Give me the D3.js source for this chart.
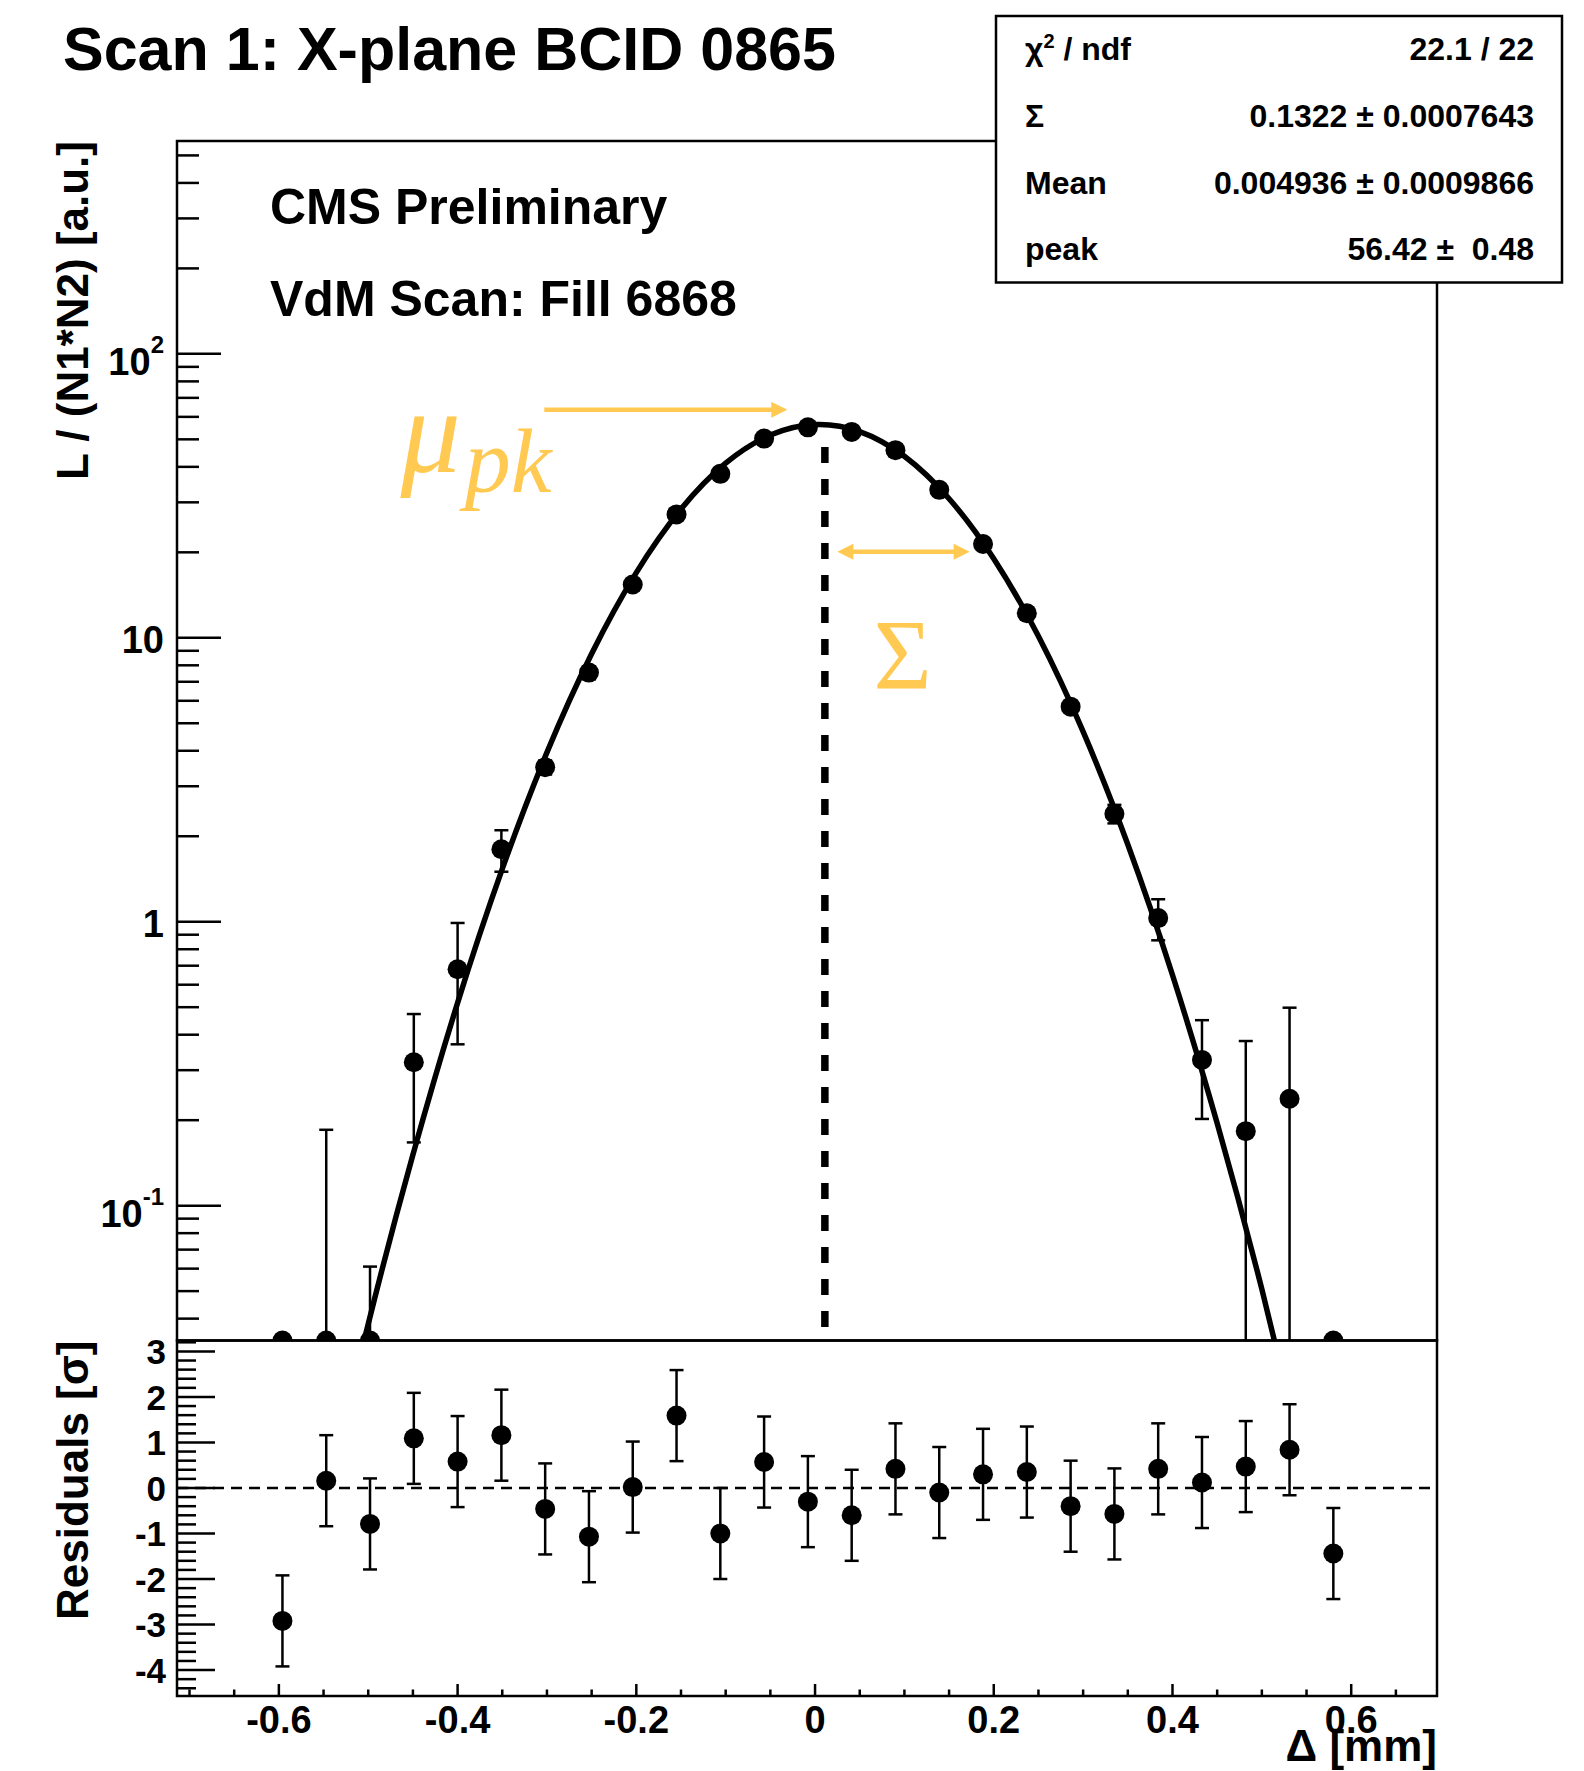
<!DOCTYPE html>
<html><head><meta charset="utf-8">
<script src="https://cdn.jsdelivr.net/npm/d3@7"></script>
<style>
body{margin:0;background:#fff}
svg{display:block}
text{font-family:"Liberation Sans",Arial,Helvetica,sans-serif;font-weight:bold;fill:#000}
</style></head><body>
<svg id="c" width="1584" height="1771"></svg>
<script>
// ---------------- data ----------------
const scanX = [-0.596,-0.547,-0.498,-0.449,-0.400,-0.351,-0.302,-0.253,-0.204,-0.155,-0.106,-0.057,-0.008,
               0.041,0.090,0.139,0.188,0.237,0.286,0.335,0.384,0.433,0.482,0.531,0.580];
const lumi = [0,0.020,0.005,0.32,0.68,1.80,3.50,7.54,15.4,27.2,37.8,50.3,55.1,
              53.1,45.8,33.2,21.4,12.2,5.72,2.40,1.03,0.326,0.183,0.238,0];
const lumiErr = [0.0006,0.165,0.056,0.153,0.31,0.30,0.2,0.4,0.6,0.8,1.0,1.5,2.0,
                 2.0,1.5,1.1,0.8,0.5,0.25,0.18,0.17,0.124,0.197,0.26,0.003];
const resid = [-2.92,0.16,-0.79,1.09,0.58,1.16,-0.46,-1.07,0.02,1.59,-1.00,0.57,-0.30,
               -0.60,0.42,-0.10,0.30,0.35,-0.40,-0.57,0.42,0.12,0.47,0.84,-1.44];
const residErr = [1,1,1,1,1,1,1,1,1,1,1,1,1,1,1,1,1,1,1,1,1,1,1,1,1];
// fit curve
const fitX = [-0.55,-0.50,-0.45,-0.40,-0.35,-0.30,-0.25,-0.20,-0.15,-0.10,-0.05,0.00,
              0.05,0.10,0.15,0.20,0.25,0.30,0.35,0.40,0.45,0.50,0.55];
const fitY = [0.0084,0.0383,0.151,0.518,1.535,3.95,8.79,16.97,28.4,41.2,51.75,56.38,
              53.24,43.57,30.9,19.0,10.12,4.67,1.87,0.649,0.195,0.0508,0.0115];
const xTicks = [-0.6,-0.4,-0.2,0,0.2,0.4,0.6];
const xTickLabels = ["-0.6","-0.4","-0.2","0","0.2","0.4","0.6"];
const yTicks = [0.1,1,10,100];
const yTickBase = ["10","1","10","10"];
const yTickExp = ["-1","","","2"];
const residTicks = [-4,-3,-2,-1,0,1,2,3];
const statsNames = ["χ","Σ","Mean","peak"];
const statsValues = ["22.1 / 22","0.1322 ± 0.0007643","0.004936 ± 0.0009866","56.42 ±  0.48"];
const titleText = "Scan 1: X-plane BCID 0865";
const labelLines = ["CMS Preliminary","VdM Scan: Fill 6868"];
// annotation (data coordinates)
const peakMarkX = 0.011, peakMarkTop = 47, peakMarkBottom = 0.036;

// ---------------- layout ----------------
const L = 177, R = 1437, T = 141, M = 1340.5, B = 1696;
const svg = d3.select("#c");
const x = d3.scaleLinear().domain([-0.714, 0.696]).range([L, R]);
const y = d3.scaleLog().domain([0.0335, 562]).range([M, T]);
const r = d3.scaleLinear().domain([-4.57, 3.24]).range([B, M]);
const yMin = y.domain()[0], yMax = y.domain()[1];
const orange = "#FFC952";

const defs = svg.append("defs");
defs.append("clipPath").attr("id","mainClip").append("rect")
  .attr("x",L).attr("y",T).attr("width",R-L).attr("height",M-T);

// title and texts
svg.append("text").attr("x",63).attr("y",70).attr("font-size",61).text(titleText);

// ---------- main pad ----------
const majorY = yTicks;
const minorY = y.ticks().filter(v => !majorY.some(m => Math.abs(m - v) / m < 1e-6));
const gy = svg.append("g");
gy.selectAll("line.maj").data(majorY).join("line")
  .attr("x1",L).attr("x2",L+44).attr("y1",d=>y(d)).attr("y2",d=>y(d))
  .attr("stroke","#000").attr("stroke-width",2.5);
gy.selectAll("line.min").data(minorY).join("line")
  .attr("x1",L).attr("x2",L+22).attr("y1",d=>y(d)).attr("y2",d=>y(d))
  .attr("stroke","#000").attr("stroke-width",2.5);
yTicks.forEach((t,i) => {
  const tx = svg.append("text").attr("x",164).attr("y",y(t)).attr("text-anchor","end")
    .attr("font-size",38).attr("dy", yTickExp[i] ? "0.55em" : "0.4em");
  tx.append("tspan").text(yTickBase[i]);
  if (yTickExp[i]) tx.append("tspan").attr("font-size",24).attr("dy","-0.9em").text(yTickExp[i]);
});

// CMS labels
svg.append("text").attr("x",270).attr("y",224).attr("font-size",50).text(labelLines[0]);
svg.append("text").attr("x",270).attr("y",316).attr("font-size",50).text(labelLines[1]);

const gm = svg.append("g").attr("clip-path","url(#mainClip)");

// dashed vertical annotation line
gm.append("line").attr("x1",x(peakMarkX)).attr("x2",x(peakMarkX))
  .attr("y1",y(peakMarkTop)).attr("y2",y(peakMarkBottom))
  .attr("stroke","#000").attr("stroke-width",7.5).attr("stroke-dasharray","16 16");

// fit curve
const fitData = fitX.map((v,i)=>[v,fitY[i]]);
gm.append("path").datum(fitData)
  .attr("d", d3.line().x(d=>x(d[0])).y(d=>y(d[1])).curve(d3.curveNatural))
  .attr("fill","none").attr("stroke","#000").attr("stroke-width",5.5);

// error bars main
const pts = scanX.map((v,i)=>({x:v, v:lumi[i], e:lumiErr[i]}));
pts.forEach(p => {
  const hi = p.v + p.e, lo = p.v - p.e;
  if (hi <= yMin) return;
  const yHi = y(Math.min(hi, yMax));
  const yLo = lo > yMin ? y(lo) : M;
  const cx = x(p.x);
  gm.append("line").attr("x1",cx).attr("x2",cx).attr("y1",yHi).attr("y2",yLo)
    .attr("stroke","#000").attr("stroke-width",2.5);
  gm.append("line").attr("x1",cx-7).attr("x2",cx+7).attr("y1",yHi).attr("y2",yHi)
    .attr("stroke","#000").attr("stroke-width",2.5);
  if (lo > yMin) gm.append("line").attr("x1",cx-7).attr("x2",cx+7).attr("y1",yLo).attr("y2",yLo)
    .attr("stroke","#000").attr("stroke-width",2.5);
});
gm.selectAll("circle").data(pts).join("circle")
  .attr("cx",d=>x(d.x)).attr("cy",d=>y(Math.max(d.v,yMin))).attr("r",10).attr("fill","#000");

// orange annotations
const arrowY1 = 63.5, arrowX1a = -0.303, arrowX1b = -0.031;
const arrowY2 = 20.1, arrowX2a = 0.025, arrowX2b = 0.173;
function head(xt, yt, dir){
  const len = 16, hw = 8;
  svg.append("path").attr("d",`M${xt},${yt} L${xt-dir*len},${yt-hw} L${xt-dir*len},${yt+hw} Z`)
    .attr("fill",orange);
}
svg.append("line").attr("x1",x(arrowX1a)).attr("x2",x(arrowX1b)-12)
  .attr("y1",y(arrowY1)).attr("y2",y(arrowY1)).attr("stroke",orange).attr("stroke-width",4.5);
head(x(arrowX1b), y(arrowY1), 1);
svg.append("line").attr("x1",x(arrowX2a)+12).attr("x2",x(arrowX2b)-12)
  .attr("y1",y(arrowY2)).attr("y2",y(arrowY2)).attr("stroke",orange).attr("stroke-width",4.5);
head(x(arrowX2b), y(arrowY2), 1);
head(x(arrowX2a), y(arrowY2), -1);

const mu = svg.append("text").attr("x",x(-0.464)).attr("y",y(38.4))
  .style("font-family","'Liberation Serif','DejaVu Serif',serif").style("font-style","italic")
  .style("font-weight","normal").style("fill",orange).attr("font-size",120);
mu.append("tspan").text("μ");
mu.append("tspan").attr("font-size",92).attr("dx",4).attr("dy",20).text("pk");
svg.append("text").attr("x",x(0.098)).attr("y",y(6.67)).attr("text-anchor","middle")
  .style("font-family","'Liberation Serif','DejaVu Serif',serif").style("font-weight","normal")
  .style("fill",orange).attr("font-size",100).text("Σ");

// ---------- residual pad ----------
const rMinor = d3.ticks(-4.57, 3.24, 40).filter(v => Math.abs(v - Math.round(v)) > 1e-6);
const gr = svg.append("g");
gr.selectAll("line.maj").data(residTicks).join("line")
  .attr("x1",L).attr("x2",L+38).attr("y1",d=>r(d)).attr("y2",d=>r(d))
  .attr("stroke","#000").attr("stroke-width",2.5);
gr.selectAll("line.min").data(rMinor).join("line")
  .attr("x1",L).attr("x2",L+19).attr("y1",d=>r(d)).attr("y2",d=>r(d))
  .attr("stroke","#000").attr("stroke-width",2.5);
residTicks.forEach(t => {
  svg.append("text").attr("x",166).attr("y",r(t)).attr("dy","0.37em").attr("text-anchor","end")
    .attr("font-size",35).text(String(t));
});
svg.append("line").attr("x1",L).attr("x2",R).attr("y1",r(0)).attr("y2",r(0))
  .attr("stroke","#000").attr("stroke-width",2.5).attr("stroke-dasharray","11 7");
const rp = scanX.map((v,i)=>({x:v, v:resid[i], e:residErr[i]}));
rp.forEach(p => {
  const cx = x(p.x), y1 = r(p.v + p.e), y2 = r(p.v - p.e);
  svg.append("line").attr("x1",cx).attr("x2",cx).attr("y1",y1).attr("y2",y2)
    .attr("stroke","#000").attr("stroke-width",2.5);
  [y1,y2].forEach(yy => svg.append("line").attr("x1",cx-7).attr("x2",cx+7).attr("y1",yy).attr("y2",yy)
    .attr("stroke","#000").attr("stroke-width",2.5));
});
svg.selectAll("circle.res").data(rp).join("circle").attr("class","res")
  .attr("cx",d=>x(d.x)).attr("cy",d=>r(d.v)).attr("r",10).attr("fill","#000");

// x axis ticks
const xMinor = d3.ticks(-0.714, 0.696, 28).filter(v => !xTicks.some(m => Math.abs(m - v) < 1e-6));
svg.selectAll("line.xmaj").data(xTicks).join("line").attr("class","xmaj")
  .attr("x1",d=>x(d)).attr("x2",d=>x(d)).attr("y1",B).attr("y2",B-12)
  .attr("stroke","#000").attr("stroke-width",2.5);
svg.selectAll("line.xmin").data(xMinor).join("line").attr("class","xmin")
  .attr("x1",d=>x(d)).attr("x2",d=>x(d)).attr("y1",B).attr("y2",B-6.5)
  .attr("stroke","#000").attr("stroke-width",2.5);
xTicks.forEach((t,i) => {
  svg.append("text").attr("x",x(t)).attr("y",1733).attr("text-anchor","middle")
    .attr("font-size",38).text(xTickLabels[i]);
});

// frames
svg.append("rect").attr("x",L).attr("y",T).attr("width",R-L).attr("height",M-T)
  .attr("fill","none").attr("stroke","#000").attr("stroke-width",2.5);
svg.append("rect").attr("x",L).attr("y",M).attr("width",R-L).attr("height",B-M)
  .attr("fill","none").attr("stroke","#000").attr("stroke-width",2.5);

// axis titles
svg.append("text").attr("transform",`translate(87.5,${T}) rotate(-90)`).attr("text-anchor","end")
  .attr("font-size",44).text("L / (N1*N2) [a.u.]");
svg.append("text").attr("transform",`translate(87.5,${M}) rotate(-90)`).attr("text-anchor","end")
  .attr("font-size",44).text("Residuals [σ]");
svg.append("text").attr("x",R).attr("y",1761).attr("text-anchor","end")
  .attr("font-size",44).text("Δ [mm]");

// stats box
const bx = 996, by = 16, bw = 566, bh = 266.5;
svg.append("rect").attr("x",bx).attr("y",by).attr("width",bw).attr("height",bh)
  .attr("fill","#fff").attr("stroke","#000").attr("stroke-width",2.5);
const rowBase = [60, 127, 193.5, 260];
statsNames.forEach((n,i) => {
  const t = svg.append("text").attr("x",1025).attr("y",rowBase[i]).attr("font-size",32);
  t.append("tspan").text(n);
  if (i === 0) {
    t.append("tspan").attr("font-size",20).attr("dy",-12).text("2");
    t.append("tspan").attr("dy",12).text(" / ndf");
  }
  svg.append("text").attr("x",1534).attr("y",rowBase[i]).attr("text-anchor","end")
    .attr("font-size",32).style("white-space","pre").text(statsValues[i]);
});
</script>
</body></html>
